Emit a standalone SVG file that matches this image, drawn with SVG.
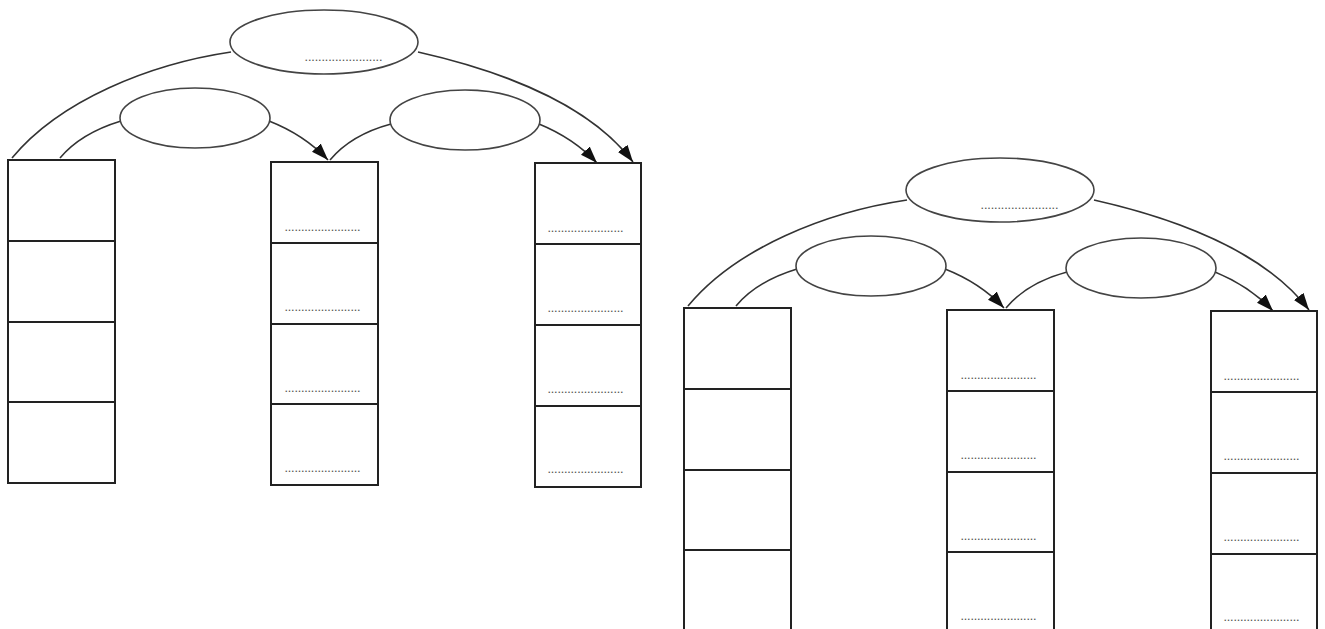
<svg xmlns="http://www.w3.org/2000/svg" width="1325" height="629" viewBox="0 0 1325 629">
<style>
.bg{fill:#fff}
.ell{fill:#fff;stroke:#444;stroke-width:1.6}
.box{fill:#fff;stroke:#222;stroke-width:2}
.con{fill:none;stroke:#333;stroke-width:1.6}
.dots{font-family:"Liberation Sans",Arial,sans-serif;font-size:9px;font-weight:bold;fill:#555}
</style>
<defs>
<marker id="arr" markerUnits="userSpaceOnUse" markerWidth="18" markerHeight="14" refX="17" refY="6" orient="auto">
<path d="M0,0 L17,6 L0,12 z" fill="#111"/>
</marker>
<g id="unit">
<g id="col-a">
<rect class="box" x="8" y="160" width="107" height="81"/>
<rect class="box" x="8" y="241" width="107" height="81"/>
<rect class="box" x="8" y="322" width="107" height="80"/>
<rect class="box" x="8" y="402" width="107" height="81"/>
</g>
<g id="col-b">
<rect class="box" x="271" y="162" width="107" height="81"/>
<rect class="box" x="271" y="243" width="107" height="81"/>
<rect class="box" x="271" y="324" width="107" height="80"/>
<rect class="box" x="271" y="404" width="107" height="81"/>
<text class="dots" x="285" y="231" textLength="75" lengthAdjust="spacing">.......................</text>
<text class="dots" x="285" y="311" textLength="75" lengthAdjust="spacing">.......................</text>
<text class="dots" x="285" y="392" textLength="75" lengthAdjust="spacing">.......................</text>
<text class="dots" x="285" y="472" textLength="75" lengthAdjust="spacing">.......................</text>
</g>
<g id="col-c">
<rect class="box" x="535" y="163" width="106" height="81"/>
<rect class="box" x="535" y="244" width="106" height="81"/>
<rect class="box" x="535" y="325" width="106" height="81"/>
<rect class="box" x="535" y="406" width="106" height="81"/>
<text class="dots" x="548" y="232" textLength="75" lengthAdjust="spacing">.......................</text>
<text class="dots" x="548" y="312" textLength="75" lengthAdjust="spacing">.......................</text>
<text class="dots" x="548" y="393" textLength="75" lengthAdjust="spacing">.......................</text>
<text class="dots" x="548" y="473" textLength="75" lengthAdjust="spacing">.......................</text>
</g>
<g id="connectors">
<path class="con" d="M12,158 C60,100 150,64 231,52"/>
<path class="con" d="M418,52 C520,75 595,112 633,162" marker-end="url(#arr)"/>
<path class="con" d="M60,158 C75,140 98,128 121,121"/>
<path class="con" d="M269,121 C292,130 312,143 328,160" marker-end="url(#arr)"/>
<path class="con" d="M330,160 C345,142 365,131 391,124"/>
<path class="con" d="M539,124 C561,133 581,146 597,163" marker-end="url(#arr)"/>
</g>
<g id="ell-top">
<ellipse class="ell" cx="324" cy="42" rx="94" ry="32"/>
<text class="dots" x="305" y="61" textLength="77" lengthAdjust="spacing">.......................</text>
</g>
<g id="ell-left"><ellipse class="ell" cx="195" cy="118" rx="75" ry="30"/></g>
<g id="ell-right"><ellipse class="ell" cx="465" cy="120" rx="75" ry="30"/></g>
</g>
</defs>
<rect class="bg" width="1325" height="629"/>
<g id="diagram-1"><use href="#unit"/></g>
<g id="diagram-2" transform="translate(676,148)"><use href="#unit"/></g>
</svg>
